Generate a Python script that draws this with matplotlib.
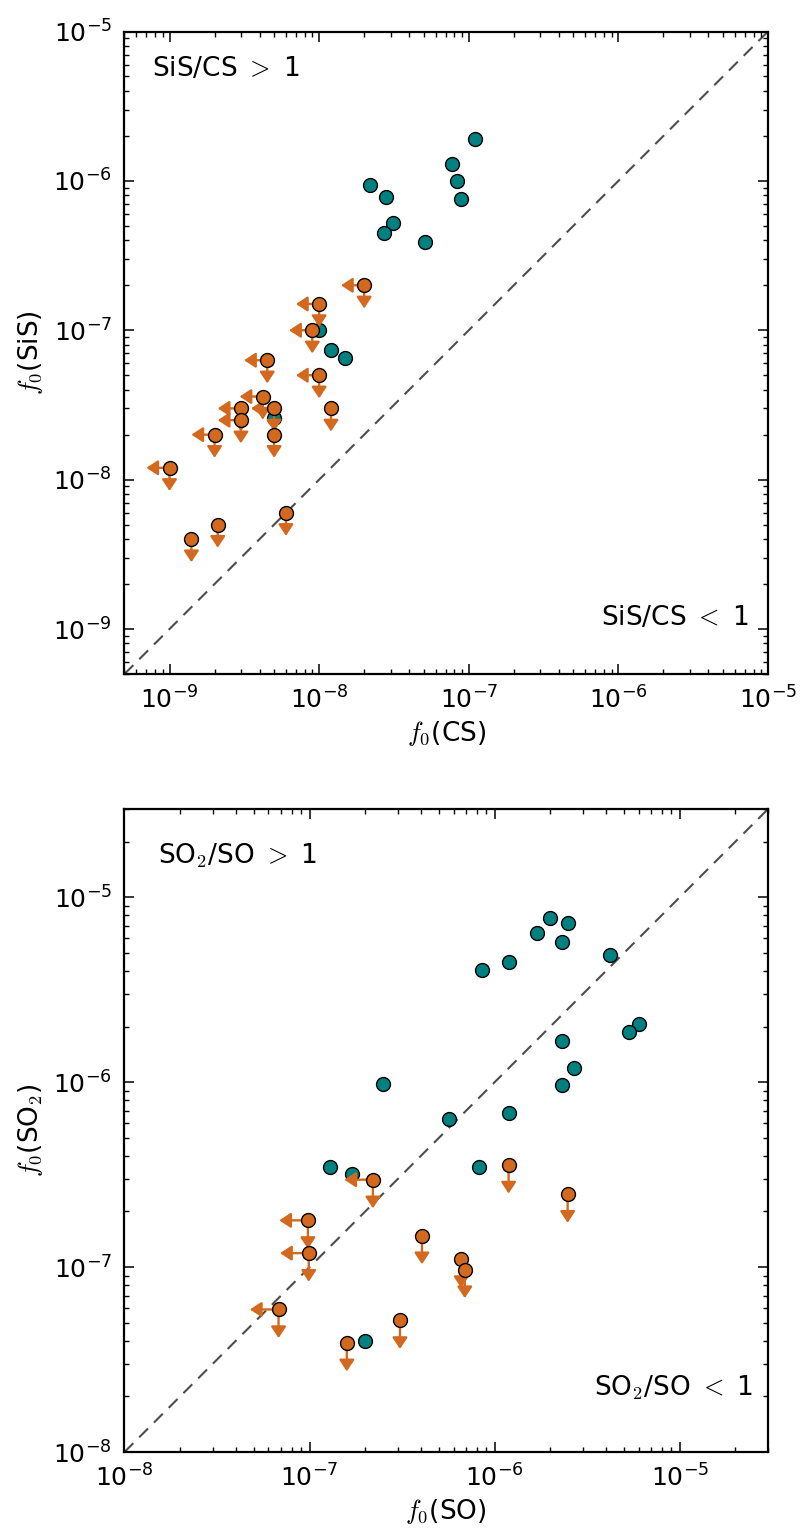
import matplotlib
matplotlib.use("Agg")
import matplotlib.pyplot as plt
from matplotlib.patches import FancyArrowPatch
from matplotlib.ticker import FixedLocator
import numpy as np

# ---------------- data ----------------
# Top panel: SiS vs CS
cs_det = [2.2e-8, 2.8e-8, 3.1e-8, 2.7e-8, 5.1e-8, 7.7e-8, 8.3e-8, 8.9e-8, 1.1e-7,
          1.0e-8, 1.2e-8, 1.5e-8, 5.0e-9]
sis_det = [9.4e-7, 7.8e-7, 5.25e-7, 4.5e-7, 3.9e-7, 1.3e-6, 1.0e-6, 7.6e-7, 1.9e-6,
           1.0e-7, 7.4e-8, 6.5e-8, 2.6e-8]
cs_lim = [2.0e-8, 1.0e-8, 9.0e-9, 4.5e-9, 1.0e-8, 4.2e-9, 3.0e-9, 3.0e-9, 5.0e-9,
          5.0e-9, 2.0e-9, 1.0e-9, 1.2e-8, 6.0e-9, 2.1e-9, 1.4e-9]
sis_lim = [2.0e-7, 1.5e-7, 1.0e-7, 6.3e-8, 5.0e-8, 3.6e-8, 3.0e-8, 2.5e-8, 3.0e-8,
           2.0e-8, 2.0e-8, 1.2e-8, 3.0e-8, 6.0e-9, 5.0e-9, 4.0e-9]
cs_is_upper = [1, 1, 1, 1, 1, 1, 1, 1, 1, 0, 1, 1, 0, 0, 0, 0]

# Bottom panel: SO2 vs SO
so_det = [2.0e-6, 2.5e-6, 1.7e-6, 2.3e-6, 4.2e-6, 1.19e-6, 8.5e-7, 6.0e-6, 5.3e-6,
          2.3e-6, 2.67e-6, 2.3e-6, 1.19e-6, 5.7e-7, 2.5e-7, 1.29e-7, 1.69e-7, 8.2e-7, 2.0e-7]
so2_det = [7.7e-6, 7.3e-6, 6.4e-6, 5.7e-6, 4.85e-6, 4.45e-6, 4.05e-6, 2.07e-6, 1.88e-6,
           1.68e-6, 1.19e-6, 9.7e-7, 6.8e-7, 6.3e-7, 9.8e-7, 3.47e-7, 3.19e-7, 3.47e-7, 4.0e-8]
so_lim = [2.2e-7, 9.8e-8, 9.9e-8, 6.8e-8, 4.05e-7, 6.6e-7, 6.9e-7, 3.08e-7, 1.59e-7,
          1.19e-6, 2.48e-6]
so2_lim = [2.97e-7, 1.79e-7, 1.19e-7, 5.9e-8, 1.48e-7, 1.1e-7, 9.7e-8, 5.15e-8, 3.9e-8,
           3.57e-7, 2.48e-7]
so_is_upper = [1, 1, 1, 1, 0, 0, 0, 0, 0, 0, 0]

top_ticks = [1e-9, 1e-8, 1e-7, 1e-6, 1e-5]
bottom_ticks = [1e-8, 1e-7, 1e-6, 1e-5]

TEAL = '#008080'
ORANGE = '#d2691e'
ARROW_FRAC = 0.7

plt.rcParams['mathtext.fontset'] = 'cm'
plt.rcParams['axes.unicode_minus'] = False
plt.rcParams['font.family'] = ['DejaVu Sans']

fig = plt.figure(figsize=(8.0, 15.37), dpi=100)
ax1 = fig.add_axes([0.1556, 0.5615, 0.8044, 0.4180])
ax2 = fig.add_axes([0.1556, 0.0553, 0.8044, 0.4183])


def arrow(ax, p0, p1):
    ax.add_patch(FancyArrowPatch(p0, p1, arrowstyle='-|>,head_length=0.38,head_width=0.25',
                                 color=ORANGE, lw=1.7, mutation_scale=18,
                                 shrinkA=0, shrinkB=0, zorder=4,
                                 transform=ax.transData))


def panel(ax, xd, yd, xl, yl, xup, lims, ticks, xlabel, ylabel, t_hi, t_lo, hi_pos, lo_pos):
    ax.set_xscale('log')
    ax.set_yscale('log')
    ax.set_xlim(lims)
    ax.set_ylim(lims)
    ax.xaxis.set_major_locator(FixedLocator(ticks))
    ax.yaxis.set_major_locator(FixedLocator(ticks))
    ax.plot(lims, lims, color='0.3', lw=1.5, dashes=(6, 4), zorder=1)
    ax.scatter(xd, yd, s=100, c=TEAL, edgecolors='black', linewidths=1.0, zorder=3)
    for x, y, u in zip(xl, yl, xup):
        arrow(ax, (x, y), (x, y * ARROW_FRAC))
        if u:
            arrow(ax, (x, y), (x * ARROW_FRAC, y))
    ax.scatter(xl, yl, s=100, c=ORANGE, edgecolors='black', linewidths=1.0, zorder=5)
    ax.set_xlabel(xlabel, fontsize=19, labelpad=4)
    ax.set_ylabel(ylabel, fontsize=19, labelpad=6)
    ax.tick_params(which='both', direction='in', top=True, right=True, labelsize=18)
    ax.tick_params(which='major', length=7, width=1.1, pad=9)
    ax.tick_params(which='minor', length=3.5, width=1.0)
    for s in ax.spines.values():
        s.set_linewidth(1.6)
    ax.text(hi_pos[0], hi_pos[1], t_hi, transform=ax.transAxes, fontsize=19,
            ha='left', va='center')
    ax.text(lo_pos[0], lo_pos[1], t_lo, transform=ax.transAxes, fontsize=19,
            ha='right', va='center')


panel(ax1, cs_det, sis_det, cs_lim, sis_lim, cs_is_upper, (5e-10, 1e-5), top_ticks,
      r'$f_0$(CS)', r'$f_0$(SiS)', r'SiS/CS $>$ 1', r'SiS/CS $<$ 1',
      (0.043, 0.942), (0.970, 0.087))
panel(ax2, so_det, so2_det, so_lim, so2_lim, so_is_upper, (1e-8, 3e-5), bottom_ticks,
      r'$f_0$(SO)', r'$f_0$(SO$_2$)', r'SO$_2$/SO $>$ 1', r'SO$_2$/SO $<$ 1',
      (0.052, 0.927), (0.976, 0.100))

fig.savefig('out.png', dpi=100, facecolor='white')
